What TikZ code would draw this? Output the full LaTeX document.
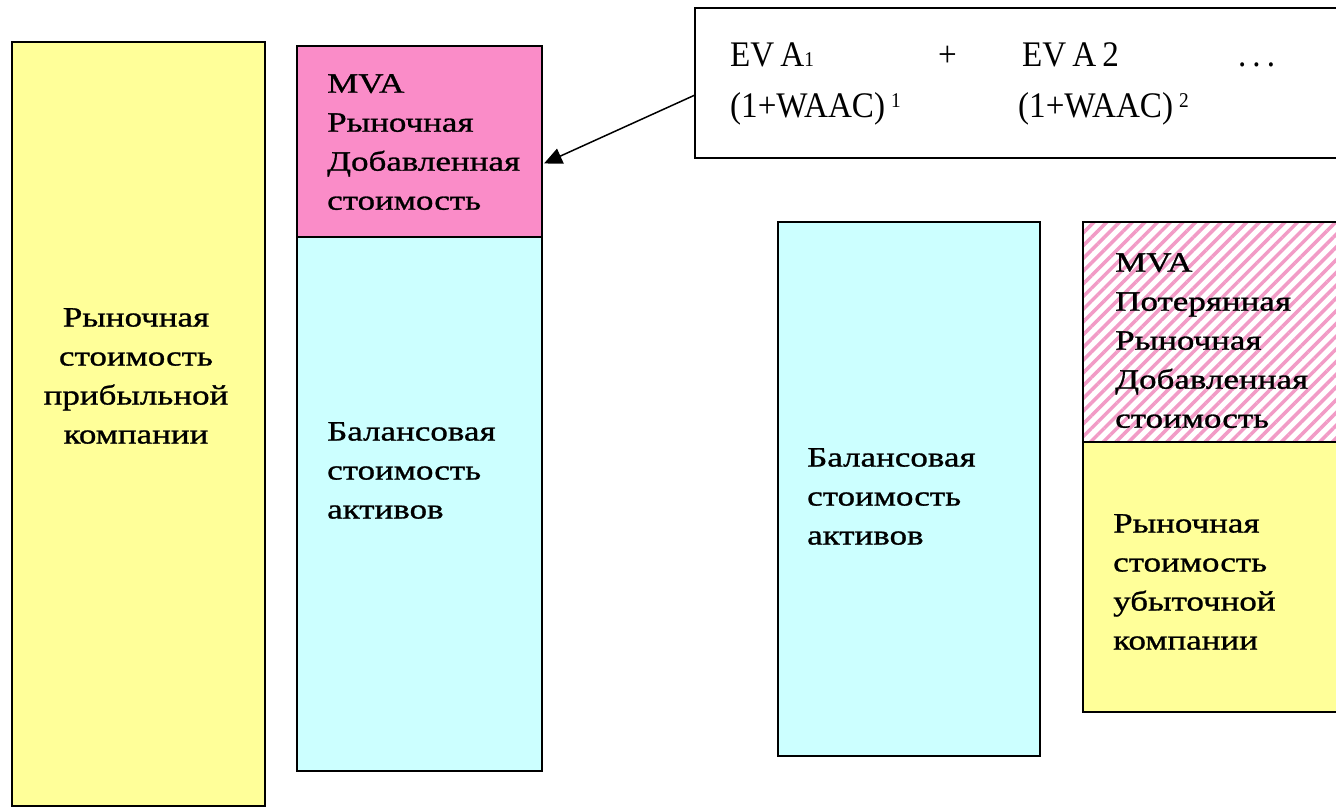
\documentclass[tikz,border=0pt]{standalone}
\usepackage{fontspec}
\setmainfont{Liberation Serif}
\newfontfamily\bodyfont[FakeStretch=1.25,FakeBold=1]{Liberation Serif}
\newfontfamily\formfont[FakeStretch=0.92]{Liberation Serif}
\usetikzlibrary{arrows.meta,patterns.meta}
\definecolor{yellowc}{RGB}{255,255,153}
\definecolor{cyanc}{RGB}{204,255,255}
\definecolor{pinkc}{RGB}{250,140,200}
\definecolor{hatchc}{RGB}{242,155,198}
\tikzset{
  box/.style={draw=black, line width=2pt, inner sep=0pt, outer sep=0pt, anchor=north west},
  btext/.style={inner sep=0pt, font=\bodyfont\fontsize{28pt}{39pt}\selectfont},
  ftext/.style={inner sep=0pt, anchor=base west, font=\formfont\fontsize{36pt}{42pt}\selectfont},
}
\newcommand{\lowone}[1]{{\fontsize{21pt}{21pt}\selectfont #1}}
\newcommand{\upone}[1]{\raisebox{10pt}{\fontsize{21pt}{21pt}\selectfont #1}}
\begin{document}
\begin{tikzpicture}[x=1pt,y=-1pt]
  \useasboundingbox (0,0) rectangle (1336,807);
  \clip (0,0) rectangle (1336,807);
  \fill[white] (0,0) rectangle (1336,807);

  % market value of the profitable company
  \node[box, fill=yellowc, minimum width=253pt, minimum height=764pt] (lbox) at (12,42) {};
  \node[btext, anchor=north, align=center] (ltext) at (136,308)
    {Рыночная\\стоимость\\прибыльной\\компании};

  % MVA on top of book value
  \node[box, fill=pinkc, minimum width=245pt, minimum height=191pt] (pbox) at (297,46) {};
  \node[box, fill=cyanc, minimum width=245pt, minimum height=534pt] (cbox) at (297,237) {};
  \node[btext, anchor=north west, align=left] (ptext) at (327,74)
    {MVA\\Рыночная\\Добавленная\\стоимость};
  \node[btext, anchor=north west, align=left] (ctext) at (327,422)
    {Балансовая\\стоимость\\активов};

  % discounted EVA formula
  \node[box, fill=white, minimum width=660pt, minimum height=150pt] (fbox) at (695,8) {};
  \node[ftext] (f1) at (730,66) {EV\,A\lowone{1}};
  \node[ftext] (f2) at (938,66) {+};
  \node[ftext] (f3) at (1022,66) {EV\,A\,2};
  \node[ftext] (f4) at (1238,66) {.\,.\,.};
  \node[ftext] (f5) at (730,117) {(1+WAAC)\,\upone{1}};
  \node[ftext] (f6) at (1018,117) {(1+WAAC)\,\upone{2}};

  \draw[line width=1.5pt, -{Triangle[length=18pt,width=16pt]}]
    ([yshift=-12pt]fbox.west) -- ([yshift=-22pt,xshift=2pt]pbox.east);

  % book value of the loss-making company
  \node[box, fill=cyanc, minimum width=262pt, minimum height=534pt] (rbox) at (778,222) {};
  \node[btext, anchor=north west, align=left] (rtext) at (807,448)
    {Балансовая\\стоимость\\активов};

  % lost MVA and market value of the loss-making company
  \node[box, preaction={fill=white}, pattern={Lines[angle=45,distance=9pt,line width=3.5pt]},
        pattern color=hatchc, minimum width=270pt, minimum height=220pt] (hbox) at (1083,222) {};
  \node[box, fill=yellowc, minimum width=270pt, minimum height=270pt] (ybox) at (1083,442) {};
  \node[btext, anchor=north west, align=left] (htext) at (1115,253)
    {MVA\\Потерянная\\Рыночная\\Добавленная\\стоимость};
  \node[btext, anchor=north west, align=left] (ytext) at (1113,514)
    {Рыночная\\стоимость\\убыточной\\компании};
\end{tikzpicture}
\end{document}
